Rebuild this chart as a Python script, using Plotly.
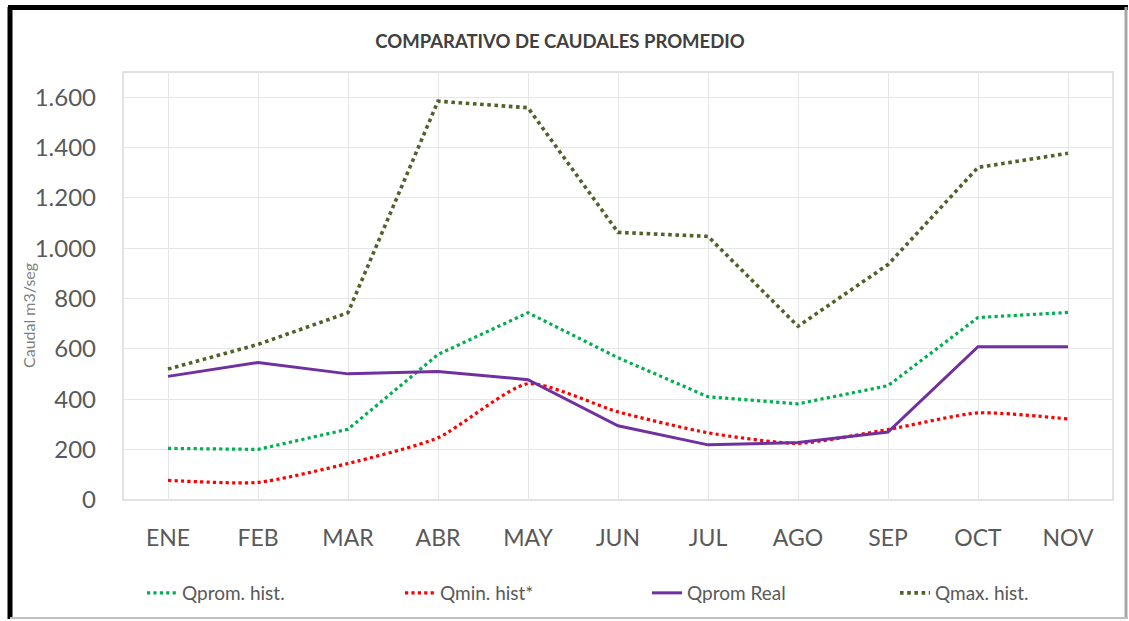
import plotly.graph_objects as go

months = ["ENE", "FEB", "MAR", "ABR", "MAY", "JUN", "JUL", "AGO", "SEP", "OCT", "NOV"]
q_prom_hist = [205, 201, 281, 578, 744, 565, 410, 382, 454, 725, 745]
q_min_hist = [78, 70, 145, 247, 462, 350, 267, 225, 280, 346, 322]
q_prom_real = [491, 546, 501, 510, 478, 295, 219, 228, 270, 609, 609]
q_max_hist = [520, 618, 744, 1584, 1558, 1063, 1047, 690, 935, 1321, 1377]
y_ticks = [0, 200, 400, 600, 800, 1000, 1200, 1400, 1600]
y_tick_labels = ["0", "200", "400", "600", "800", "1.000", "1.200", "1.400", "1.600"]

fig = go.Figure()
fig.add_trace(go.Scatter(x=months, y=q_prom_hist, name="Qprom. hist.", mode="lines", legend="legend",
                         line=dict(color="#00B050", width=3.2, dash="dot")))
fig.add_trace(go.Scatter(x=months, y=q_min_hist, name="Qmin. hist*", mode="lines", legend="legend2",
                         line=dict(color="#FF0000", width=3.2, dash="dot", shape="spline", smoothing=0.6)))
fig.add_trace(go.Scatter(x=months, y=q_prom_real, name="Qprom Real", mode="lines", legend="legend3",
                         line=dict(color="#7030A0", width=3)))
fig.add_trace(go.Scatter(x=months, y=q_max_hist, name="Qmax. hist.", mode="lines", legend="legend4",
                         line=dict(color="#4F6228", width=3.6, dash="dot")))

L, R, T, B = 123, 16, 72, 121
W, H = 1129, 621
pw, ph = W - L - R, H - T - B

def px(x):
    return (x - L) / pw

def py(y):
    return (H - B - y) / ph

shapes = [
    dict(type="rect", xref="paper", yref="paper", x0=0, x1=1, y0=0, y1=1,
         line=dict(color="#D9D9D9", width=1.5), layer="below"),
    dict(type="line", xref="paper", yref="paper", x0=px(10), x1=px(10), y0=py(7), y1=py(619),
         line=dict(color="#000000", width=5)),
    dict(type="line", xref="paper", yref="paper", x0=px(8), x1=px(1128), y0=py(7.5), y1=py(7.5),
         line=dict(color="#000000", width=5)),
    dict(type="line", xref="paper", yref="paper", x0=px(1126), x1=px(1126), y0=py(7), y1=py(619),
         line=dict(color="#A6A6A6", width=3)),
    dict(type="line", xref="paper", yref="paper", x0=px(10), x1=px(1128), y0=py(618), y1=py(618),
         line=dict(color="#BFBFBF", width=2)),
]

leg_font = dict(size=19, color="#595959", family="Lato, Open Sans, sans-serif")

def leg(xpix):
    return dict(orientation="h", x=px(xpix), xanchor="left", y=py(593), yanchor="middle",
                font=leg_font, bgcolor="rgba(0,0,0,0)")

fig.update_layout(
    width=W, height=H,
    margin=dict(l=L, r=R, t=T, b=B, autoexpand=False),
    paper_bgcolor="white", plot_bgcolor="white",
    showlegend=True,
    font=dict(family="Lato, Open Sans, sans-serif", color="#595959"),
    title=dict(text="<b>COMPARATIVO DE CAUDALES PROMEDIO</b>", x=px(560), xref="paper",
               xanchor="center", y=1 - 42 / H, yanchor="middle",
               font=dict(size=18.5, color="#404040", family="Lato, Open Sans, sans-serif")),
    xaxis=dict(range=[-0.5, 10.5], showgrid=True, gridcolor="#E6E6E6", gridwidth=1,
               tickfont=dict(size=23, color="#595959"), ticks="", ticklabelstandoff=22,
               showline=False, zeroline=False, automargin=False),
    yaxis=dict(range=[0, 1700], tickvals=y_ticks, ticktext=y_tick_labels,
               showgrid=True, gridcolor="#E6E6E6", gridwidth=1,
               tickfont=dict(size=24, color="#595959"), ticks="", ticklabelstandoff=26,
               showline=False, zeroline=False, automargin=False),
    legend=leg(142), legend2=leg(400), legend3=leg(647), legend4=leg(895),
    shapes=shapes,
    annotations=[dict(text="Caudal m3/seg", xref="paper", yref="paper", x=px(28), y=py(316),
                      textangle=-90, showarrow=False, font=dict(size=16, color="#7F7F7F"),
                      xanchor="center", yanchor="middle")],
)

fig.write_html("out.html", config={"displayModeBar": False},
               post_script="document.body.style.margin='0';document.body.style.overflow='hidden';")
